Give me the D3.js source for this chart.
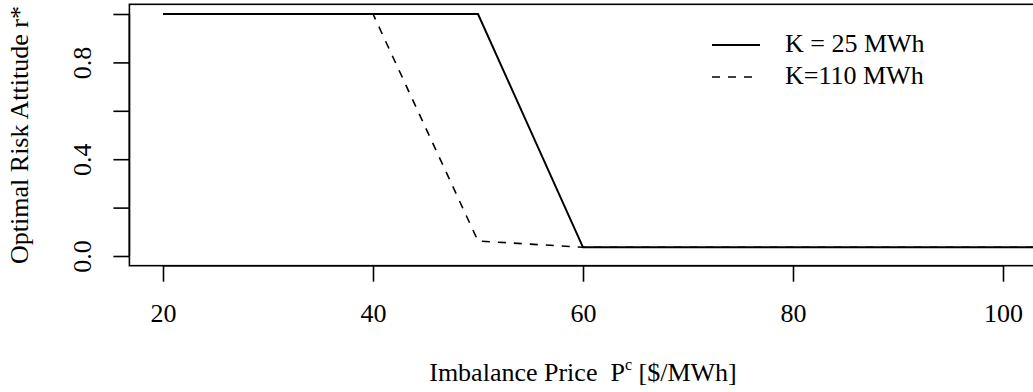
<!DOCTYPE html>
<html>
<head>
<meta charset="utf-8">
<script src="https://cdn.jsdelivr.net/npm/d3@7"></script>
<style>
  html, body { margin: 0; padding: 0; background: #fff; }
  svg { display: block; font-family: "Liberation Serif", "Times New Roman", serif; }
  text { white-space: pre; }
</style>
</head>
<body>
<svg id="chart" width="1033" height="392"></svg>
<script>
// Imbalance price grid ($/MWh) and optimal risk attitude for two storage capacities
const prices = [20, 30, 40, 50, 60, 70, 80, 90, 100, 110];
const riskK25 = [1, 1, 1, 1, 0.036, 0.036, 0.036, 0.036, 0.036, 0.036];
const riskK110 = [1, 1, 1, 0.062, 0.036, 0.036, 0.036, 0.036, 0.036, 0.036];
const xTicks = [20, 40, 60, 80, 100];
const yTicks = [0, 0.2, 0.4, 0.6, 0.8, 1.0];
const yTickLabels = ["0.0", "", "0.4", "", "0.8", ""];
const legendLabels = ["K = 25 MWh", "K=110 MWh"];

const svg = d3.select("#chart");
const fontSize = 26;

const x = d3.scaleLinear().domain([20, 100]).range([163, 1003]);
const y = d3.scaleLinear().domain([0, 1]).range([256, 14]);

// Plot region padded 4% beyond the data range, as in a base R plot
const xPad = 0.04 * 80, yPad = 0.04 * 1;
const box = {
  x0: x(20 - xPad), x1: x(100 + xPad),
  y0: y(1 + yPad), y1: y(0 - yPad)
};

svg.append("defs").append("clipPath").attr("id", "plotClip")
  .append("rect")
  .attr("x", box.x0).attr("y", box.y0)
  .attr("width", box.x1 - box.x0).attr("height", box.y1 - box.y0);

// Series lines
const line = d3.line().x((d, i) => x(prices[i])).y(d => y(d));
const plot = svg.append("g").attr("clip-path", "url(#plotClip)");
plot.append("path").datum(riskK25)
  .attr("d", line).attr("fill", "none")
  .attr("stroke", "#000").attr("stroke-width", 2);
plot.append("path").datum(riskK110)
  .attr("d", line).attr("fill", "none")
  .attr("stroke", "#000").attr("stroke-width", 1.6)
  .attr("stroke-dasharray", "8,8");

// Frame
svg.append("rect")
  .attr("x", box.x0).attr("y", box.y0)
  .attr("width", box.x1 - box.x0).attr("height", box.y1 - box.y0)
  .attr("fill", "none").attr("stroke", "#000").attr("stroke-width", 1.6);

// Bottom axis
const xAxis = d3.axisBottom(x).tickValues(xTicks).tickSize(16).tickPadding(22)
  .tickFormat(d3.format("d"));
const gx = svg.append("g").attr("transform", `translate(0,${box.y1})`).call(xAxis);
gx.select(".domain").attr("d", `M${x(20)},0H${x(100)}`).attr("stroke-width", 1.6);
gx.selectAll(".tick line").attr("stroke-width", 1.6);
gx.selectAll(".tick text").attr("font-size", fontSize)
  .attr("font-family", "Liberation Serif").attr("fill", "#000");

// Left axis with rotated labels
const yAxis = d3.axisLeft(y).tickValues(yTicks).tickSize(16)
  .tickFormat((d, i) => yTickLabels[i]);
const gy = svg.append("g").attr("transform", `translate(${box.x0},0)`).call(yAxis);
gy.select(".domain").attr("d", `M0,${y(0)}V${y(1)}`).attr("stroke-width", 1.6);
gy.selectAll(".tick line").attr("stroke-width", 1.6);
gy.selectAll(".tick text")
  .attr("font-size", fontSize).attr("font-family", "Liberation Serif").attr("fill", "#000")
  .attr("x", null).attr("dy", null)
  .attr("text-anchor", "middle")
  .attr("transform", `translate(${-38.5},0) rotate(-90)`);

// Axis titles
const xTitle = svg.append("text")
  .attr("x", (box.x0 + box.x1) / 2).attr("y", 381)
  .attr("text-anchor", "middle").attr("font-size", fontSize);
xTitle.append("tspan").text("Imbalance Price  P");
xTitle.append("tspan").attr("font-size", fontSize * 0.62).attr("dy", -11).text("c");
xTitle.append("tspan").attr("dy", 11).text(" [$/MWh]");

svg.append("text")
  .attr("transform", `translate(28,${(box.y0 + box.y1) / 2}) rotate(-90)`)
  .attr("text-anchor", "middle").attr("font-size", fontSize)
  .text("Optimal Risk Attitude r*");

// Legend
const legend = svg.append("g");
const legendRows = [
  { label: legendLabels[0], dash: null, width: 2 },
  { label: legendLabels[1], dash: "8,8", width: 1.6 }
];
legendRows.forEach((r, i) => {
  const cy = 45 + i * 32;
  legend.append("line")
    .attr("x1", 712).attr("x2", 760).attr("y1", cy).attr("y2", cy)
    .attr("stroke", "#000").attr("stroke-width", r.width)
    .attr("stroke-dasharray", r.dash);
  legend.append("text")
    .attr("x", 785).attr("y", cy + 7)
    .attr("font-size", fontSize).text(r.label);
});
</script>
</body>
</html>
